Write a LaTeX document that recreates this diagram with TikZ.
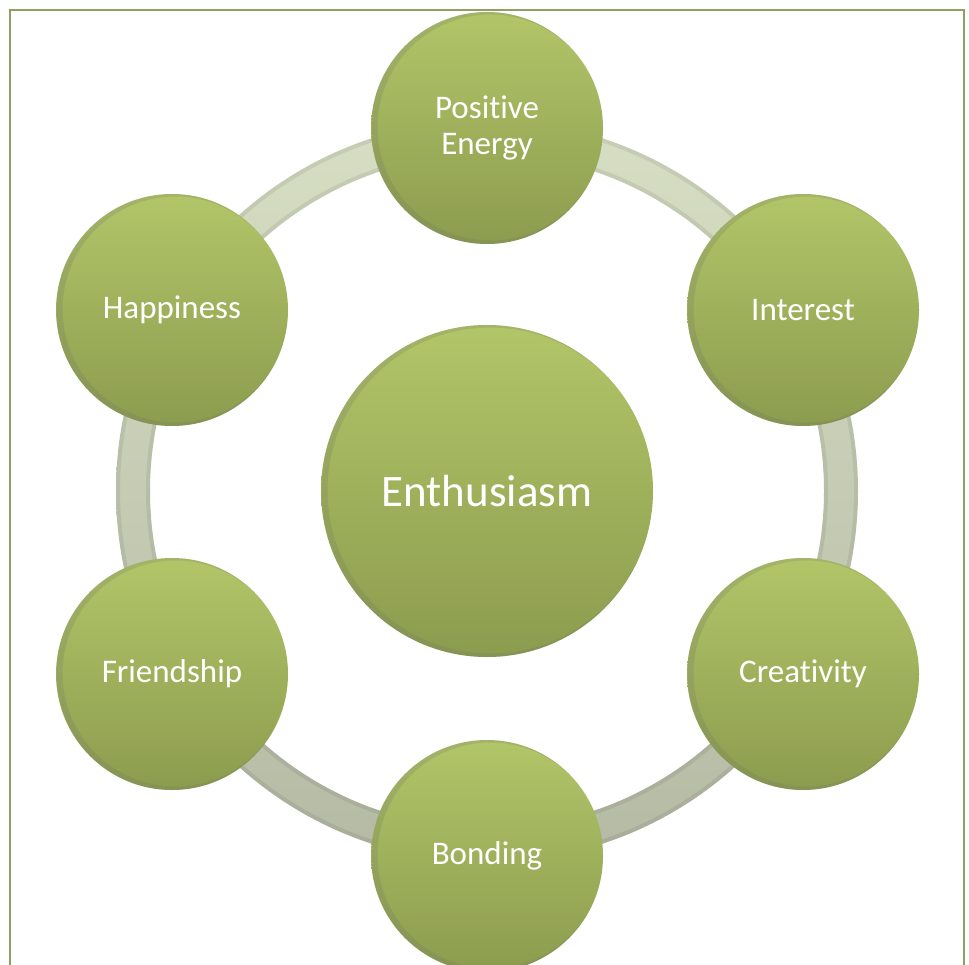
\documentclass[tikz,border=0pt]{standalone}
\usepackage{fontspec}
\setmainfont{Carlito}[RawFeature={-liga;-clig;-dlig;-calt}]
\usetikzlibrary{calc}
\definecolor{framecol}{HTML}{8FA064}
\definecolor{balltop}{HTML}{B2C568}
\definecolor{ballbot}{HTML}{8C9C4F}
\definecolor{ringtop}{HTML}{D6DEC3}
\definecolor{ringbot}{HTML}{B5BAA4}
\definecolor{shadowcol}{HTML}{6E7466}
\tikzset{
  ball/.style={circle, inner sep=0pt, align=center, text=white,
    top color=balltop, bottom color=ballbot, shading angle=0},
  small/.style={ball, minimum size=232pt, font=\fontsize{33}{36}\selectfont},
  big/.style={ball, minimum size=332pt, font=\fontsize{45}{50}\selectfont},
  ringedge/.style={draw=black, opacity=0.07, line width=4pt},
  rimshade/.style={draw=shadowcol, opacity=0.22, line width=6pt}
}
\newcommand\innershade[2]{%
  \begin{scope}
    \clip (#1.center) circle (#2);
    \path[rimshade] ($(#1.center)+(3.5,-0.5)$) circle (#2);
  \end{scope}}
\begin{document}
\begin{tikzpicture}[x=1pt,y=-1pt]
\useasboundingbox (0,0) rectangle (969,965);
\clip (0,0) rectangle (969,965);
\fill[white] (0,0) rectangle (969,965);
\draw[framecol, line width=2pt] (9.5,10.5) rectangle (963.5,1000);
\coordinate (c) at (487,491);
% ring
\shade[top color=ringtop, bottom color=ringbot, even odd rule]
  (c) circle (371) (c) circle (337);
\path[ringedge] (c) circle (369);
\path[ringedge] (c) circle (339);
% outer circles
\node[small] (pos) at (487,128) {Posit\kern0pt ive\\Energy};
\node[small] (int) at (803,310) {Interest};
\node[small] (cre) at (803,674) {Creat\kern0pt ivity};
\node[small] (bon) at (487,856) {Bonding};
\node[small] (fri) at (172,674) {Friendship};
\node[small] (hap) at (172,310) {Happiness};
% centre
\node[big] (ent) at (487,491) {Enthusiasm};
\innershade{pos}{116}
\innershade{int}{116}
\innershade{cre}{116}
\innershade{bon}{116}
\innershade{fri}{116}
\innershade{hap}{116}
\innershade{ent}{166}
\end{tikzpicture}
\end{document}
